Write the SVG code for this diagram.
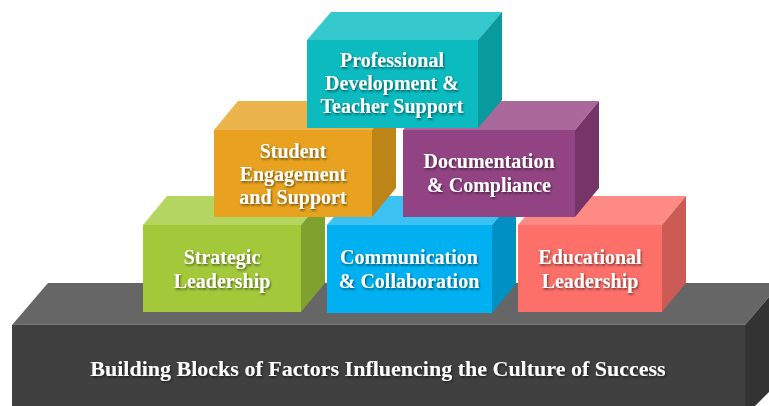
<svg xmlns="http://www.w3.org/2000/svg" width="769" height="406" viewBox="0 0 769 406">
<defs>
<filter id="ts" x="-10%" y="-30%" width="120%" height="160%">
<feDropShadow dx="1" dy="1.5" stdDeviation="1" flood-color="#000" flood-opacity="0.55"/>
</filter>
</defs>
<style>
.t{font-family:"Liberation Serif","Times New Roman",serif;font-weight:bold;font-size:20px;fill:#fff;text-anchor:middle;filter:url(#ts)}
.big{font-size:22px}
</style>
<rect width="769" height="406" fill="#fff"/>
<g id="base">
<polygon points="12,325 745,325 781,283 48,283" fill="#666666"/>
<line x1="12" y1="325" x2="745" y2="325" stroke="#8a8a8a" stroke-width="1"/>
<rect x="12" y="325" width="733" height="90" fill="#404040"/>
<polygon points="745,325 781,283 781,380 745,416" fill="#333333"/>
<text class="t big" x="378" y="376">Building Blocks of Factors Influencing the Culture of Success</text>
</g>
<g id="strategic">
<polygon points="143,225 167,196 325,196 301,225" fill="#B5D561"/>
<polygon points="301,225 325,196 325,283 301,312" fill="#7EA22D"/>
<rect x="143" y="225" width="158" height="87" fill="#A3C93A"/>
<text class="t" x="222" y="264">Strategic</text>
<text class="t" x="222" y="288">Leadership</text>
</g>
<g id="communication">
<polygon points="327,225 351,196 516,196 492,225" fill="#3CC2F2"/>
<polygon points="492,225 516,196 516,284 492,313" fill="#0090C4"/>
<rect x="327" y="225" width="165" height="88" fill="#00B0F0"/>
<text class="t" x="409" y="264">Communication</text>
<text class="t" x="409" y="288">&amp; Collaboration</text>
</g>
<g id="educational">
<polygon points="518,225 542,196 686,196 662,225" fill="#FE8A85"/>
<polygon points="662,225 686,196 686,283 662,312" fill="#CC5A55"/>
<rect x="518" y="225" width="144" height="87" fill="#FD6F69"/>
<text class="t" x="590" y="264">Educational</text>
<text class="t" x="590" y="288">Leadership</text>
</g>
<g id="student">
<polygon points="214,130 238,101 396,101 372,130" fill="#EBB44C"/>
<polygon points="372,130 396,101 396,188 372,217" fill="#BD8418"/>
<rect x="214" y="130" width="158" height="87" fill="#E8A21F"/>
<text class="t" x="293" y="158">Student</text>
<text class="t" x="293" y="181">Engagement</text>
<text class="t" x="293" y="204">and Support</text>
</g>
<g id="documentation">
<polygon points="403,130 427,101 599,101 575,130" fill="#A96A9B"/>
<polygon points="575,130 599,101 599,188 575,217" fill="#753568"/>
<rect x="403" y="130" width="172" height="87" fill="#924383"/>
<text class="t" x="489" y="168">Documentation</text>
<text class="t" x="489" y="192">&amp; Compliance</text>
</g>
<g id="professional">
<polygon points="307,40 331,12 502,12 478,40" fill="#35C8CC"/>
<polygon points="478,40 502,12 502,100 478,128" fill="#099A9E"/>
<rect x="307" y="40" width="171" height="88" fill="#0BBBC0"/>
<text class="t" x="392" y="67">Professional</text>
<text class="t" x="392" y="90">Development &amp;</text>
<text class="t" x="392" y="113">Teacher Support</text>
</g>
<g id="connectors"/>
</svg>
